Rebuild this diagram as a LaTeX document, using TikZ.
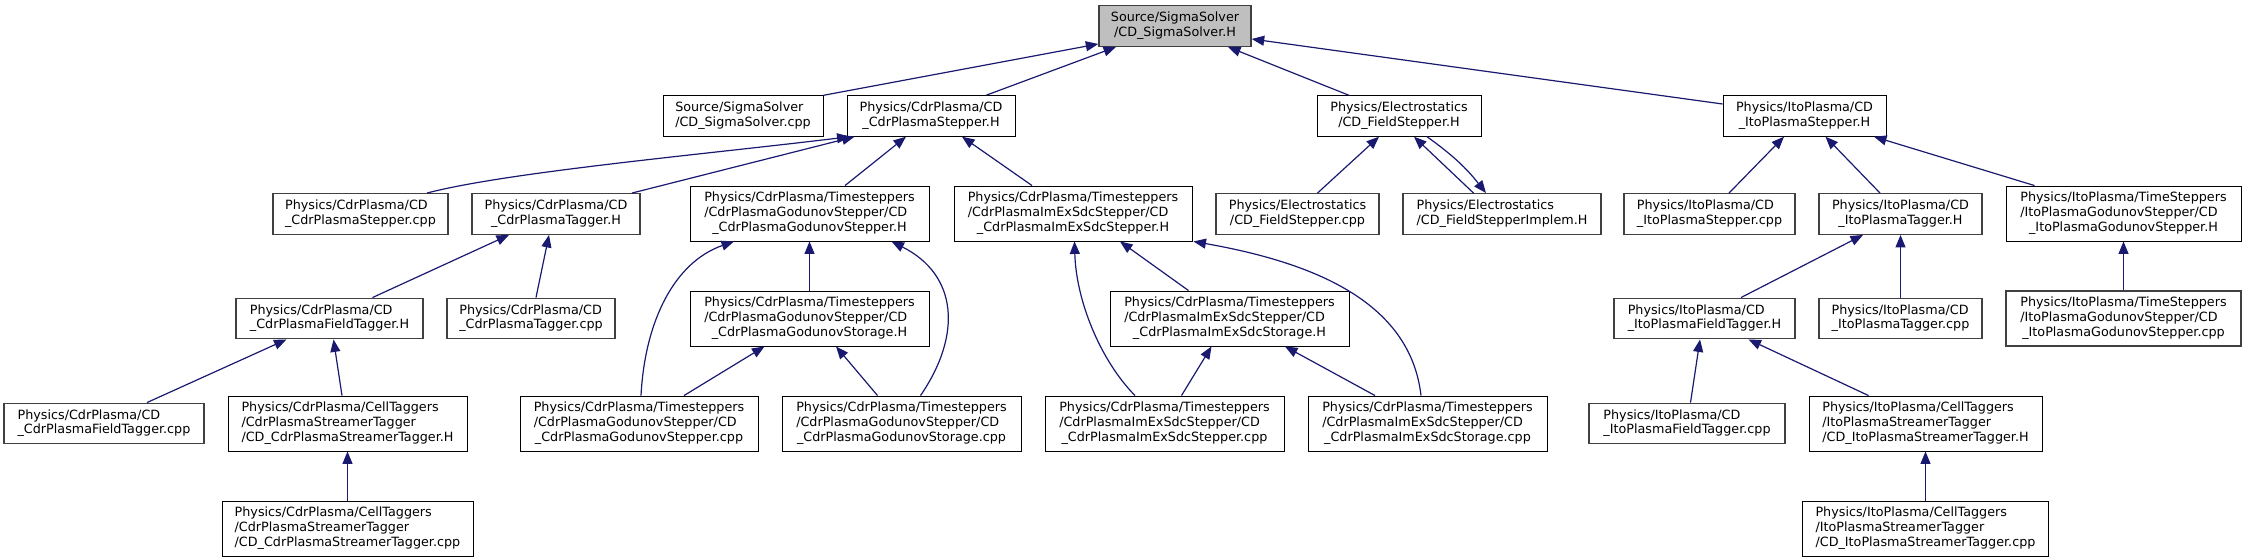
\documentclass[tikz,border=0pt]{standalone}
\usepackage{fontspec}
\setmainfont{DejaVu Sans}
\usetikzlibrary{arrows.meta}
\definecolor{edgeblue}{HTML}{191970}
\definecolor{boxgray}{HTML}{404040}
\definecolor{rootfill}{HTML}{BFBFBF}
\newcommand{\twol}[2]{\begin{tabular}{@{}l@{}}#1\\\multicolumn{1}{@{}c@{}}{#2}\end{tabular}}
\newcommand{\threel}[3]{\begin{tabular}{@{}l@{}}#1\\#2\\\multicolumn{1}{@{}c@{}}{#3}\end{tabular}}
\tikzset{
  fbox/.style={rectangle, draw=black, line width=0.9pt, fill=white, inner sep=0pt,
    minimum height=40.5pt, text=black, font=\fontsize{12.75pt}{14.7pt}\selectfont},
  gbox/.style={fbox, draw=boxgray, line width=1.4pt},
  tall/.style={minimum height=55pt},
  rootbox/.style={fbox, fill=rootfill, draw=boxgray, line width=1.4pt},
  edge/.style={draw=edgeblue, line width=1.2pt, -{Triangle[length=12.5pt,width=10pt]}}
}
\begin{document}
\begin{tikzpicture}[x=1pt,y=-1pt]
\useasboundingbox (0,0) rectangle (2246,557);
% rank 0
\node[rootbox, minimum width=152pt] (root) at (1175,26) {\twol{Source/SigmaSolver}{/CD\_SigmaSolver.H}};
% rank 1
\node[fbox, minimum width=160pt] (src) at (743,116) {\twol{Source/SigmaSolver}{/CD\_SigmaSolver.cpp}};
\node[fbox, minimum width=168pt] (cdrH) at (931,116) {\twol{Physics/CdrPlasma/CD}{\_CdrPlasmaStepper.H}};
\node[fbox, minimum width=164pt] (fsH) at (1399,116) {\twol{Physics/Electrostatics}{/CD\_FieldStepper.H}};
\node[fbox, minimum width=163pt] (itoH) at (1804.5,116) {\twol{Physics/ItoPlasma/CD}{\_ItoPlasmaStepper.H}};
% rank 2
\node[gbox, minimum width=175pt] (cdrcpp) at (360.5,214) {\twol{Physics/CdrPlasma/CD}{\_CdrPlasmaStepper.cpp}};
\node[gbox, minimum width=168pt] (cdrtagH) at (556,214) {\twol{Physics/CdrPlasma/CD}{\_CdrPlasmaTagger.H}};
\node[fbox, tall, minimum width=239pt] (godH) at (809.5,213.5) {\threel{Physics/CdrPlasma/Timesteppers}{/CdrPlasmaGodunovStepper/CD}{\_CdrPlasmaGodunovStepper.H}};
\node[fbox, tall, minimum width=238pt] (imexH) at (1073,213.5) {\threel{Physics/CdrPlasma/Timesteppers}{/CdrPlasmaImExSdcStepper/CD}{\_CdrPlasmaImExSdcStepper.H}};
\node[gbox, minimum width=163pt] (fscpp) at (1297.5,214) {\twol{Physics/Electrostatics}{/CD\_FieldStepper.cpp}};
\node[gbox, minimum width=198pt] (fsimpl) at (1502,214) {\twol{Physics/Electrostatics}{/CD\_FieldStepperImplem.H}};
\node[gbox, minimum width=171pt] (itocpp) at (1709.5,214) {\twol{Physics/ItoPlasma/CD}{\_ItoPlasmaStepper.cpp}};
\node[gbox, minimum width=163pt] (itotagH) at (1900.5,214) {\twol{Physics/ItoPlasma/CD}{\_ItoPlasmaTagger.H}};
\node[fbox, tall, minimum width=235pt] (itogodH) at (2123.5,213.5) {\threel{Physics/ItoPlasma/TimeSteppers}{/ItoPlasmaGodunovStepper/CD}{\_ItoPlasmaGodunovStepper.H}};
% rank 3
\node[gbox, minimum width=187pt] (cdrfieldH) at (329.5,318.5) {\twol{Physics/CdrPlasma/CD}{\_CdrPlasmaFieldTagger.H}};
\node[gbox, minimum width=168pt] (cdrtagcpp) at (531,318.5) {\twol{Physics/CdrPlasma/CD}{\_CdrPlasmaTagger.cpp}};
\node[fbox, tall, minimum width=239pt] (godstorH) at (809.5,318.5) {\threel{Physics/CdrPlasma/Timesteppers}{/CdrPlasmaGodunovStepper/CD}{\_CdrPlasmaGodunovStorage.H}};
\node[fbox, tall, minimum width=239pt] (imexstorH) at (1229.5,318.5) {\threel{Physics/CdrPlasma/Timesteppers}{/CdrPlasmaImExSdcStepper/CD}{\_CdrPlasmaImExSdcStorage.H}};
\node[gbox, minimum width=181pt] (itofieldH) at (1704.5,318.5) {\twol{Physics/ItoPlasma/CD}{\_ItoPlasmaFieldTagger.H}};
\node[gbox, minimum width=163pt] (itotagcpp) at (1900.5,318.5) {\twol{Physics/ItoPlasma/CD}{\_ItoPlasmaTagger.cpp}};
\node[gbox, tall, minimum width=235pt] (itogodcpp) at (2123.5,318.5) {\threel{Physics/ItoPlasma/TimeSteppers}{/ItoPlasmaGodunovStepper/CD}{\_ItoPlasmaGodunovStepper.cpp}};
% rank 4
\node[gbox, minimum width=200pt] (cdrfieldcpp) at (104,423.5) {\twol{Physics/CdrPlasma/CD}{\_CdrPlasmaFieldTagger.cpp}};
\node[fbox, tall, minimum width=239pt] (cdrstrH) at (347.5,423.5) {\threel{Physics/CdrPlasma/CellTaggers}{/CdrPlasmaStreamerTagger}{/CD\_CdrPlasmaStreamerTagger.H}};
\node[fbox, tall, minimum width=238pt] (godcpp) at (639,423.5) {\threel{Physics/CdrPlasma/Timesteppers}{/CdrPlasmaGodunovStepper/CD}{\_CdrPlasmaGodunovStepper.cpp}};
\node[fbox, tall, minimum width=239pt] (godstorcpp) at (901.5,423.5) {\threel{Physics/CdrPlasma/Timesteppers}{/CdrPlasmaGodunovStepper/CD}{\_CdrPlasmaGodunovStorage.cpp}};
\node[fbox, tall, minimum width=239pt] (imexcpp) at (1164.5,423.5) {\threel{Physics/CdrPlasma/Timesteppers}{/CdrPlasmaImExSdcStepper/CD}{\_CdrPlasmaImExSdcStepper.cpp}};
\node[fbox, tall, minimum width=239pt] (imexstorcpp) at (1427.5,423.5) {\threel{Physics/CdrPlasma/Timesteppers}{/CdrPlasmaImExSdcStepper/CD}{\_CdrPlasmaImExSdcStorage.cpp}};
\node[gbox, minimum width=196pt] (itofieldcpp) at (1687,423.5) {\twol{Physics/ItoPlasma/CD}{\_ItoPlasmaFieldTagger.cpp}};
\node[fbox, tall, minimum width=233pt] (itostrH) at (1925.5,423.5) {\threel{Physics/ItoPlasma/CellTaggers}{/ItoPlasmaStreamerTagger}{/CD\_ItoPlasmaStreamerTagger.H}};
% rank 5
\node[fbox, tall, minimum width=251pt] (cdrstrcpp) at (347.5,528.5) {\threel{Physics/CdrPlasma/CellTaggers}{/CdrPlasmaStreamerTagger}{/CD\_CdrPlasmaStreamerTagger.cpp}};
\node[fbox, tall, minimum width=246pt] (itostrcpp) at (1925.5,528.5) {\threel{Physics/ItoPlasma/CellTaggers}{/ItoPlasmaStreamerTagger}{/CD\_ItoPlasmaStreamerTagger.cpp}};
% edges
\draw[edge] (src.north east) -- ([yshift=3pt]root.south west);
\draw[edge] ([xshift=55pt]cdrH.north) -- ([xshift=-59pt]root.south);
\draw[edge] ([xshift=-50pt]fsH.north) -- ([xshift=53pt]root.south);
\draw[edge] ([yshift=12pt]itoH.west) -- ([yshift=-13pt]root.east);
\draw[edge] ([xshift=66.5pt]cdrcpp.north) .. controls (507,172) and (708,154) .. ([xshift=3pt]cdrH.south west);
\draw[edge] ([xshift=76pt]cdrtagH.north) -- ([xshift=8pt]cdrH.south west);
\draw[edge] ([xshift=35.5pt]godH.north) -- ([xshift=-25pt]cdrH.south);
\draw[edge] ([xshift=-41pt]imexH.north) -- ([xshift=31pt]cdrH.south);
\draw[edge] ([xshift=20pt]fscpp.north) -- ([xshift=-20pt]fsH.south);
\draw[edge] ([xshift=-28.5pt]fsimpl.north) -- ([xshift=15pt]fsH.south);
\draw[edge] ([xshift=28pt]fsH.south) to[bend left=8] ([xshift=-16pt]fsimpl.north);
\draw[edge] ([xshift=19.5pt]itocpp.north) -- ([xshift=-20.5pt]itoH.south);
\draw[edge] ([xshift=-20.5pt]itotagH.north) -- ([xshift=21pt]itoH.south);
\draw[edge] ([xshift=-89pt]itogodH.north) -- ([xshift=69.5pt]itoH.south);
\draw[edge] ([xshift=43pt]cdrfieldH.north) -- ([xshift=-47pt]cdrtagH.south);
\draw[edge] ([xshift=5pt]cdrtagcpp.north) -- ([xshift=-7pt]cdrtagH.south);
\draw[edge] ([xshift=2pt]godcpp.north) .. controls (645,320) and (675,262) .. ([xshift=-75.5pt]godH.south);
\draw[edge] (godstorH.north) -- (godH.south);
\draw[edge] ([xshift=19pt]godstorcpp.north) .. controls (962,335) and (958,275) .. ([xshift=82pt]godH.south);
\draw[edge] ([xshift=-29.5pt]imexcpp.north) .. controls (1100,360) and (1076,300) .. ([xshift=1.5pt]imexH.south);
\draw[edge] ([xshift=-41pt]imexstorH.north) -- ([xshift=47pt]imexH.south);
\draw[edge] ([xshift=-6.5pt]imexstorcpp.north) .. controls (1410,300) and (1310,262) .. ([xshift=1pt]imexH.south east);
\draw[edge] ([xshift=36.5pt]itofieldH.north) -- ([xshift=-37.5pt]itotagH.south);
\draw[edge] (itotagcpp.north) -- (itotagH.south);
\draw[edge] (itogodcpp.north) -- (itogodH.south);
\draw[edge] ([xshift=43pt]cdrfieldcpp.north) -- ([xshift=-43pt]cdrfieldH.south);
\draw[edge] ([xshift=-5.5pt]cdrstrH.north) -- ([xshift=4pt]cdrfieldH.south);
\draw[edge] ([xshift=45pt]godcpp.north) -- ([xshift=-45pt]godstorH.south);
\draw[edge] ([xshift=-24pt]godstorcpp.north) -- ([xshift=26.5pt]godstorH.south);
\draw[edge] ([xshift=17pt]imexcpp.north) -- ([xshift=-18pt]imexstorH.south);
\draw[edge] ([xshift=-52.5pt]imexstorcpp.north) -- ([xshift=55.5pt]imexstorH.south);
\draw[edge] ([xshift=3.5pt]itofieldcpp.north) -- ([xshift=-4.5pt]itofieldH.south);
\draw[edge] ([xshift=-57pt]itostrH.north) -- ([xshift=44pt]itofieldH.south);
\draw[edge] (cdrstrcpp.north) -- (cdrstrH.south);
\draw[edge] (itostrcpp.north) -- (itostrH.south);
\end{tikzpicture}
\end{document}
